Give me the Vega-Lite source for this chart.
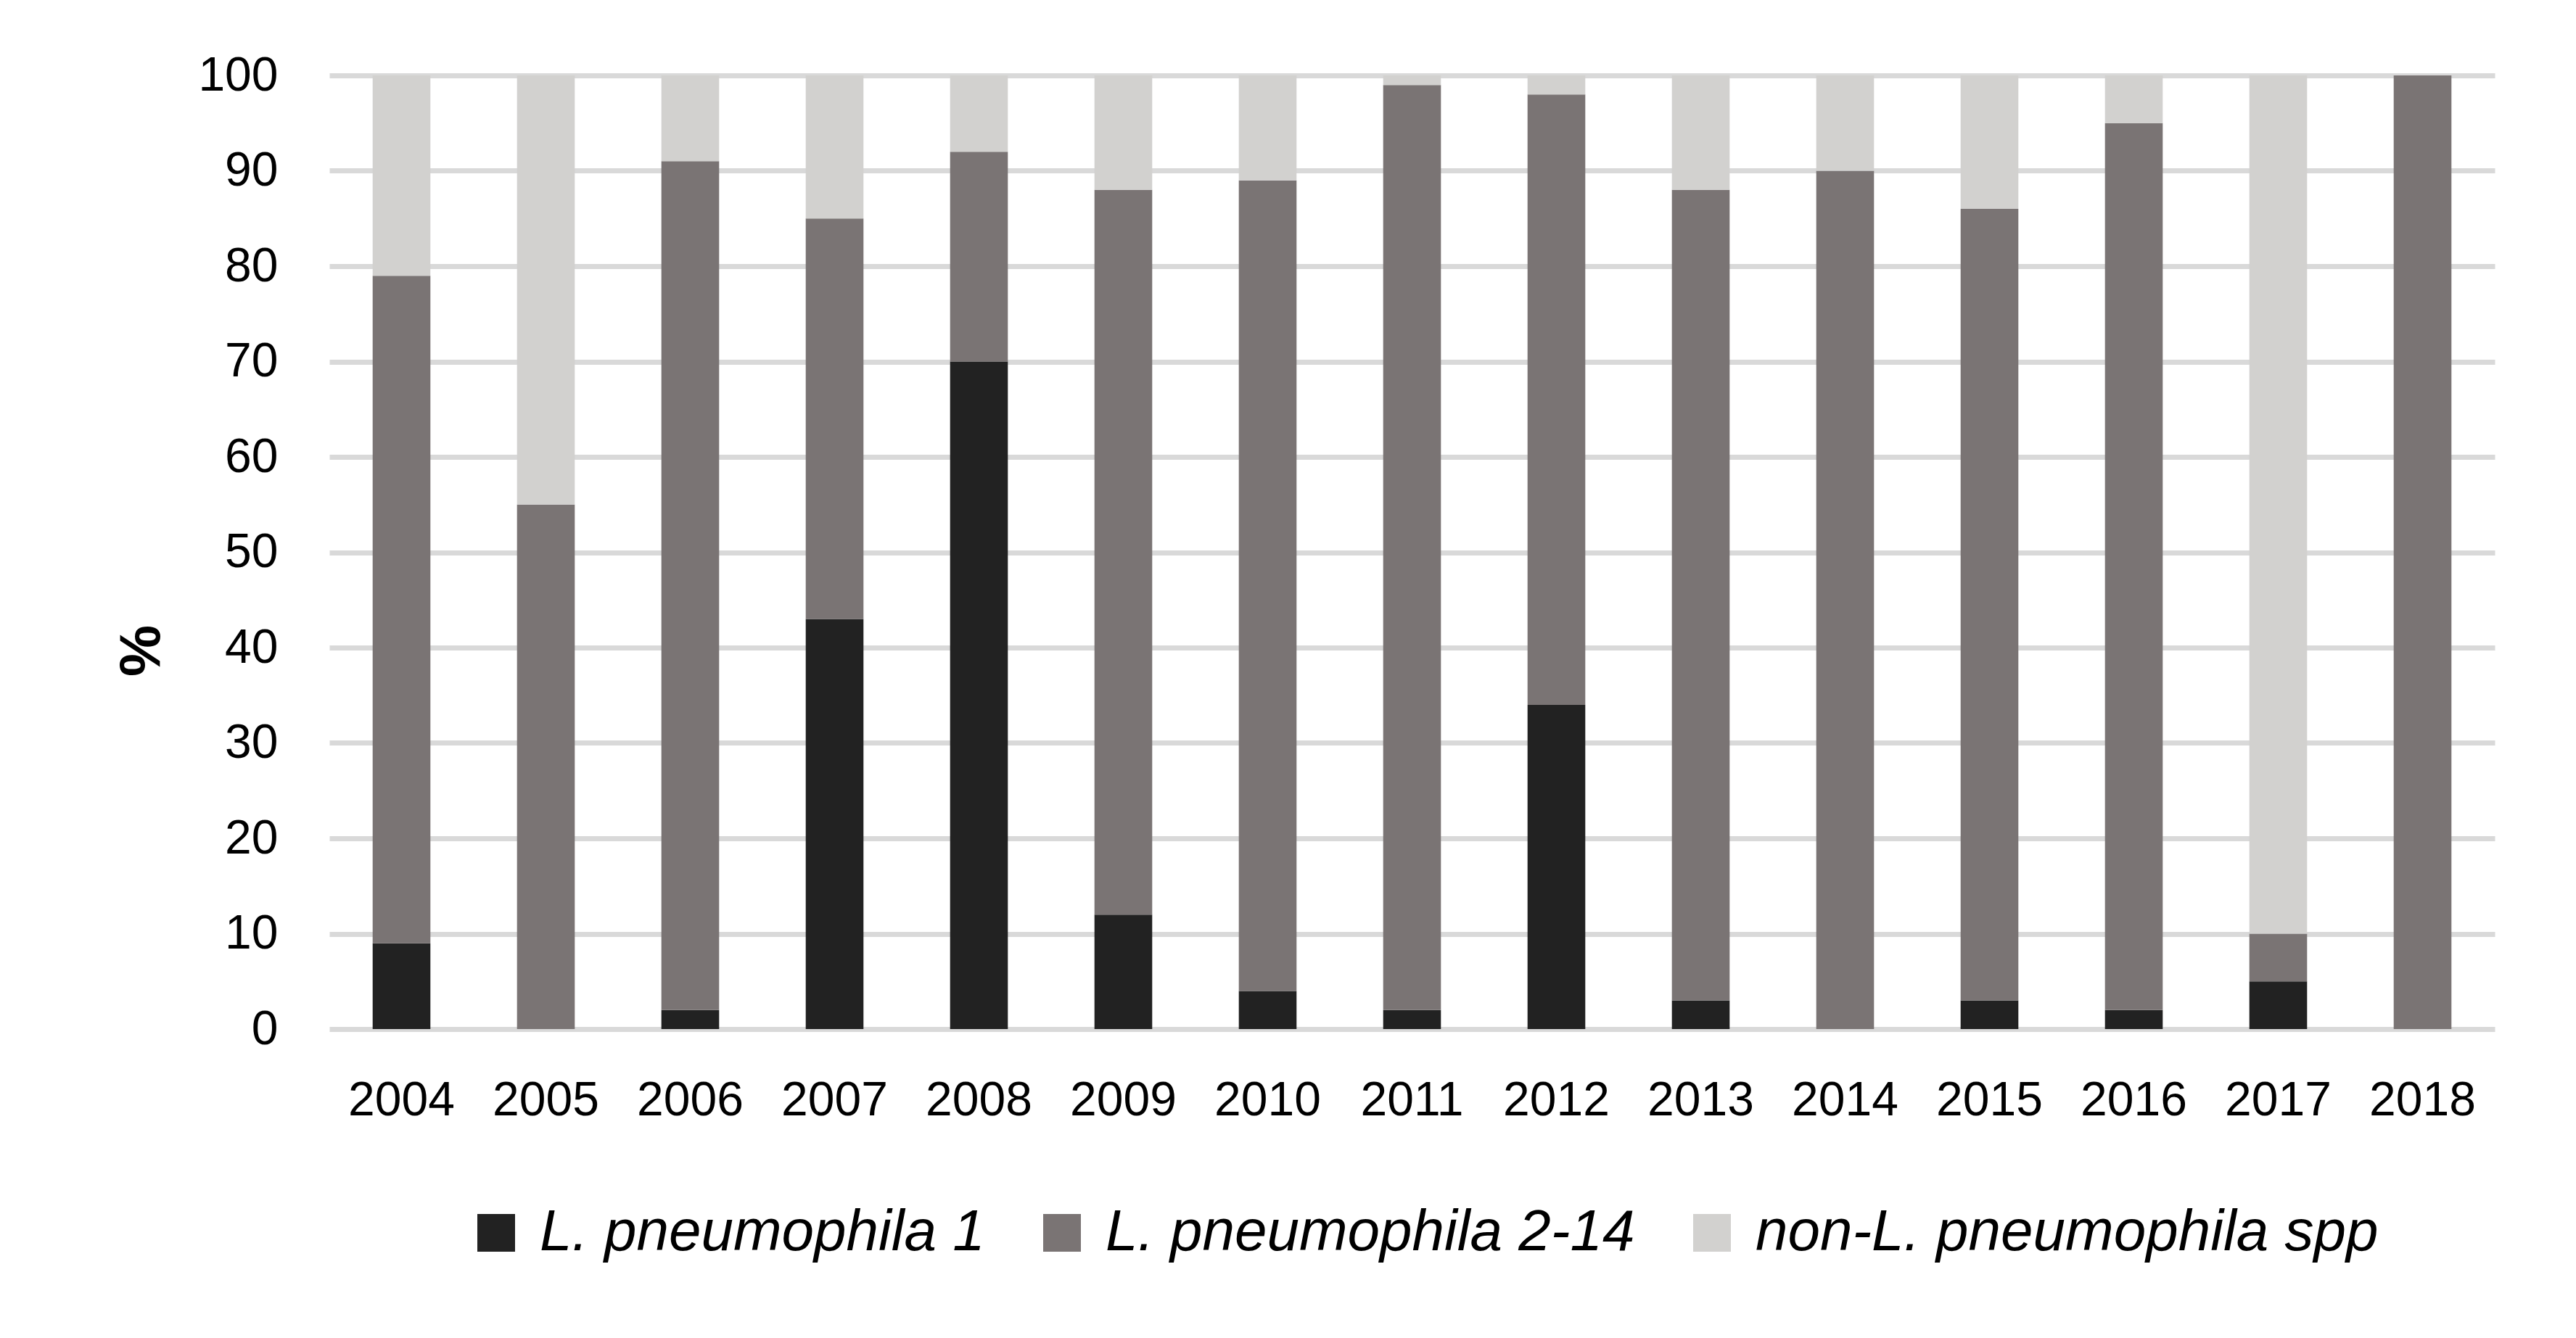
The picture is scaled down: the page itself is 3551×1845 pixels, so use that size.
{
  "$schema": "https://vega.github.io/schema/vega-lite/v6.json",
  "width": 2985,
  "height": 1315,
  "autosize": {"type": "none"},
  "padding": {"left": 454, "top": 104, "right": 112, "bottom": 426},
  "background": "white",
  "config": {
    "view": {"stroke": null},
    "font": "Liberation Sans"
  },
  "data": {
    "values": [
      {"year": "2004", "type": "L. pneumophila 1", "k": 1, "pct": 9},
      {"year": "2004", "type": "L. pneumophila 2-14", "k": 2, "pct": 70},
      {"year": "2004", "type": "non-L. pneumophila spp", "k": 3, "pct": 21},
      {"year": "2005", "type": "L. pneumophila 1", "k": 1, "pct": 0},
      {"year": "2005", "type": "L. pneumophila 2-14", "k": 2, "pct": 55},
      {"year": "2005", "type": "non-L. pneumophila spp", "k": 3, "pct": 45},
      {"year": "2006", "type": "L. pneumophila 1", "k": 1, "pct": 2},
      {"year": "2006", "type": "L. pneumophila 2-14", "k": 2, "pct": 89},
      {"year": "2006", "type": "non-L. pneumophila spp", "k": 3, "pct": 9},
      {"year": "2007", "type": "L. pneumophila 1", "k": 1, "pct": 43},
      {"year": "2007", "type": "L. pneumophila 2-14", "k": 2, "pct": 42},
      {"year": "2007", "type": "non-L. pneumophila spp", "k": 3, "pct": 15},
      {"year": "2008", "type": "L. pneumophila 1", "k": 1, "pct": 70},
      {"year": "2008", "type": "L. pneumophila 2-14", "k": 2, "pct": 22},
      {"year": "2008", "type": "non-L. pneumophila spp", "k": 3, "pct": 8},
      {"year": "2009", "type": "L. pneumophila 1", "k": 1, "pct": 12},
      {"year": "2009", "type": "L. pneumophila 2-14", "k": 2, "pct": 76},
      {"year": "2009", "type": "non-L. pneumophila spp", "k": 3, "pct": 12},
      {"year": "2010", "type": "L. pneumophila 1", "k": 1, "pct": 4},
      {"year": "2010", "type": "L. pneumophila 2-14", "k": 2, "pct": 85},
      {"year": "2010", "type": "non-L. pneumophila spp", "k": 3, "pct": 11},
      {"year": "2011", "type": "L. pneumophila 1", "k": 1, "pct": 2},
      {"year": "2011", "type": "L. pneumophila 2-14", "k": 2, "pct": 97},
      {"year": "2011", "type": "non-L. pneumophila spp", "k": 3, "pct": 1},
      {"year": "2012", "type": "L. pneumophila 1", "k": 1, "pct": 34},
      {"year": "2012", "type": "L. pneumophila 2-14", "k": 2, "pct": 64},
      {"year": "2012", "type": "non-L. pneumophila spp", "k": 3, "pct": 2},
      {"year": "2013", "type": "L. pneumophila 1", "k": 1, "pct": 3},
      {"year": "2013", "type": "L. pneumophila 2-14", "k": 2, "pct": 85},
      {"year": "2013", "type": "non-L. pneumophila spp", "k": 3, "pct": 12},
      {"year": "2014", "type": "L. pneumophila 1", "k": 1, "pct": 0},
      {"year": "2014", "type": "L. pneumophila 2-14", "k": 2, "pct": 90},
      {"year": "2014", "type": "non-L. pneumophila spp", "k": 3, "pct": 10},
      {"year": "2015", "type": "L. pneumophila 1", "k": 1, "pct": 3},
      {"year": "2015", "type": "L. pneumophila 2-14", "k": 2, "pct": 83},
      {"year": "2015", "type": "non-L. pneumophila spp", "k": 3, "pct": 14},
      {"year": "2016", "type": "L. pneumophila 1", "k": 1, "pct": 2},
      {"year": "2016", "type": "L. pneumophila 2-14", "k": 2, "pct": 93},
      {"year": "2016", "type": "non-L. pneumophila spp", "k": 3, "pct": 5},
      {"year": "2017", "type": "L. pneumophila 1", "k": 1, "pct": 5},
      {"year": "2017", "type": "L. pneumophila 2-14", "k": 2, "pct": 5},
      {"year": "2017", "type": "non-L. pneumophila spp", "k": 3, "pct": 90},
      {"year": "2018", "type": "L. pneumophila 1", "k": 1, "pct": 0},
      {"year": "2018", "type": "L. pneumophila 2-14", "k": 2, "pct": 100},
      {"year": "2018", "type": "non-L. pneumophila spp", "k": 3, "pct": 0}
    ]
  },
  "mark": {"type": "bar"},
  "encoding": {
    "x": {
      "field": "year",
      "type": "nominal",
      "sort": null,
      "scale": {"paddingInner": 0.6, "paddingOuter": 0.3},
      "axis": {
        "title": null,
        "labelAngle": 0,
        "labelFontSize": 66,
        "labelColor": "#000000",
        "labelPadding": 66,
        "ticks": false,
        "domain": false,
        "grid": false
      }
    },
    "y": {
      "field": "pct",
      "type": "quantitative",
      "stack": "zero",
      "scale": {"domain": [0, 100], "nice": false},
      "axis": {
        "title": "%",
        "titleFontSize": 80,
        "titleFontWeight": "bold",
        "titleColor": "#000000",
        "titlePadding": 36,
        "titleY": 793,
        "values": [0, 10, 20, 30, 40, 50, 60, 70, 80, 90, 100],
        "labelFontSize": 66,
        "labelColor": "#000000",
        "labelPadding": 71,
        "ticks": false,
        "domain": false,
        "grid": true,
        "gridColor": "#d9d9d9",
        "gridWidth": 7,
        "zindex": 0
      }
    },
    "color": {
      "field": "type",
      "type": "nominal",
      "scale": {
        "domain": ["L. pneumophila 1", "L. pneumophila 2-14", "non-L. pneumophila spp"],
        "range": ["#222222", "#7a7474", "#d2d1cf"]
      },
      "legend": {
        "title": null,
        "orient": "none",
        "direction": "horizontal",
        "legendX": 190,
        "legendY": 1556,
        "symbolType": "square",
        "symbolSize": 2704,
        "symbolStrokeWidth": 0,
        "symbolOpacity": 1,
        "labelFontSize": 80,
        "labelFontStyle": "italic",
        "labelColor": "#000000",
        "labelOffset": 20,
        "labelLimit": 2000,
        "columnPadding": 66
      }
    },
    "order": {"field": "k", "type": "quantitative"}
  }
}
